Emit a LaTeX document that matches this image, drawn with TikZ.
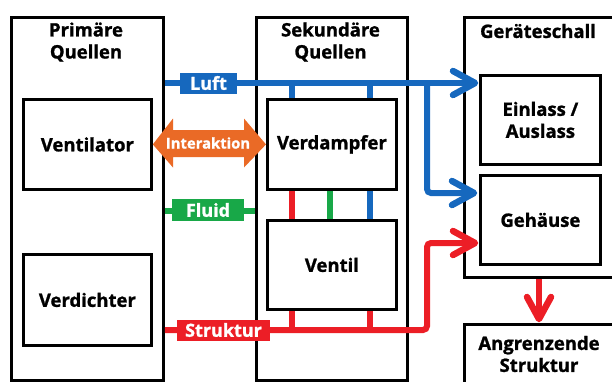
\documentclass[tikz,border=0pt]{standalone}
\usepackage{fontspec}
\setmainfont{Open Sans}[BoldFeatures={FakeBold=1.2}]
\usetikzlibrary{calc}
\definecolor{cblue}{RGB}{22,104,190}
\definecolor{cgreen}{RGB}{24,168,72}
\definecolor{cred}{RGB}{236,30,38}
\definecolor{corange}{RGB}{234,106,38}
\tikzset{
  box/.style={draw=black, line width=2.8pt, anchor=north west, inner sep=0pt, align=center,
    font=\fontsize{18.5}{22}\selectfont\bfseries},
  ttl/.style={align=center, font=\fontsize{18.5}{22}\selectfont\bfseries, inner sep=0pt},
  tag/.style={text=white, font=\fontsize{18}{20}\selectfont\bfseries, inner sep=0pt, minimum height=21pt},
  wire/.style={line width=6pt},
  thin/.style={line width=5.5pt},
  chev/.style={line width=6.5pt, line cap=round, line join=round},
}
\begin{document}
\begin{tikzpicture}[x=1pt,y=-1pt]
\useasboundingbox (0,0) rectangle (612,381);
\clip (0,0) rectangle (612,381);
% outer boxes
\node[box, minimum width=152pt, minimum height=363pt] (prim) at (10,16) {};
\node[box, minimum width=151pt, minimum height=363pt] (sek) at (255,16) {};
\node[box, minimum width=170pt, minimum height=260pt] (geraet) at (463,16) {};
\node[box, minimum width=170pt, minimum height=80pt] (angr) at (463,323) {};
% titles
\node[ttl] (tprim) at (86,42) {Primäre\\Quellen};
\node[ttl] (tsek) at (330.5,42) {Sekundäre\\Quellen};
\node[ttl] (tger) at (538,31) {Geräteschall};
\node[ttl] (tangr) at (539,354) {Angrenzende\\Struktur};
% inner boxes
\node[box, minimum width=128pt, minimum height=90pt] (vent) at (22,98) {Ventilator};
\node[box, minimum width=128pt, minimum height=91pt] (verd) at (22,253) {Verdichter};
\node[box, minimum width=129pt, minimum height=90pt] (vda) at (266,98) {Verdampfer};
\node[box, minimum width=129pt, minimum height=89pt] (vtl) at (266,219) {Ventil};
\node[box, minimum width=120pt, minimum height=89pt] (ein) at (479,74) {Einlass /\\Auslass};
\node[box, minimum width=120pt, minimum height=89pt] (geh) at (479,174) {Gehäuse};
% coordinates
\coordinate (xa) at (292,0);
\coordinate (xb) at (330,0);
\coordinate (xc) at (370,0);
\coordinate (xd) at (427,0);
\coordinate (xe) at (539,0);
\coordinate (yl) at (0,83);
\coordinate (yf) at (0,211);
\coordinate (ys) at (0,330);
\coordinate (yb) at (0,193);
\coordinate (yr) at (0,243);
% arrow tip points
\coordinate (t1) at ($(ein.west |- yl)+(-4,0)$);
\coordinate (t2) at ($(geh.west |- yb)+(-5,0)$);
\coordinate (t3) at ($(geh.west |- yr)+(-4,0)$);
\coordinate (t4) at ($(angr.north -| xe)+(0,-4)$);
% Luft (blue)
\draw[wire, cblue] (prim.east |- yl) -- (t1);
\draw[chev, cblue] ($(t1)+(-22,-12)$) -- (t1) -- ($(t1)+(-22,12)$);
\draw[wire, cblue, rounded corners=4pt] (xd |- yl) -- (xd |- yb) -- (t2);
\draw[chev, cblue] ($(t2)+(-22,-12)$) -- (t2) -- ($(t2)+(-22,12)$);
\draw[cblue, thin] (xa |- yl) -- (xa |- vda.north);
\draw[cblue, thin] (xc |- yl) -- (xc |- vda.north);
\draw[cblue, thin] (xc |- vda.south) -- (xc |- vtl.north);
\draw[cgreen, thin] (xb |- vda.south) -- (xb |- vtl.north);
\draw[cred, thin] (xa |- vda.south) -- (xa |- vtl.north);
\node[tag, fill=cblue, minimum width=57pt] (luft) at (208.5,83) {Luft};
% Fluid (green)
\draw[cgreen, thin] (prim.east |- yf) -- (sek.west |- yf);
\node[tag, fill=cgreen, minimum width=72pt, minimum height=22pt] (fluid) at (208,210) {Fluid};
% Struktur (red)
\draw[wire, cred, rounded corners=4pt] (prim.east |- ys) -- (xd |- ys) -- (xd |- yr) -- (t3);
\draw[chev, cred] ($(t3)+(-22,-12)$) -- (t3) -- ($(t3)+(-22,12)$);
\draw[cred, thin] (xa |- ys) -- (xa |- vtl.south);
\draw[cred, thin] (xc |- ys) -- (xc |- vtl.south);
\node[tag, fill=cred, minimum width=93pt] (strukt) at (223.5,330) {Struktur};
\draw[wire, cred] (geraet.south -| xe) -- (t4);
\draw[chev, cred] ($(t4)+(-12,-22)$) -- (t4) -- ($(t4)+(12,-22)$);
% Interaktion
\fill[corange] (vent.east) -- (173,118.5) -- (173,130) -- (244,130) -- (244,118.5) -- (vda.west) -- (244,167.5) -- (244,157) -- (173,157) -- (173,167.5) -- cycle;
\node[text=white, font=\fontsize{14.8}{16}\selectfont\bfseries, inner sep=0pt] (inter) at (208,143) {Interaktion};
\end{tikzpicture}
\end{document}
